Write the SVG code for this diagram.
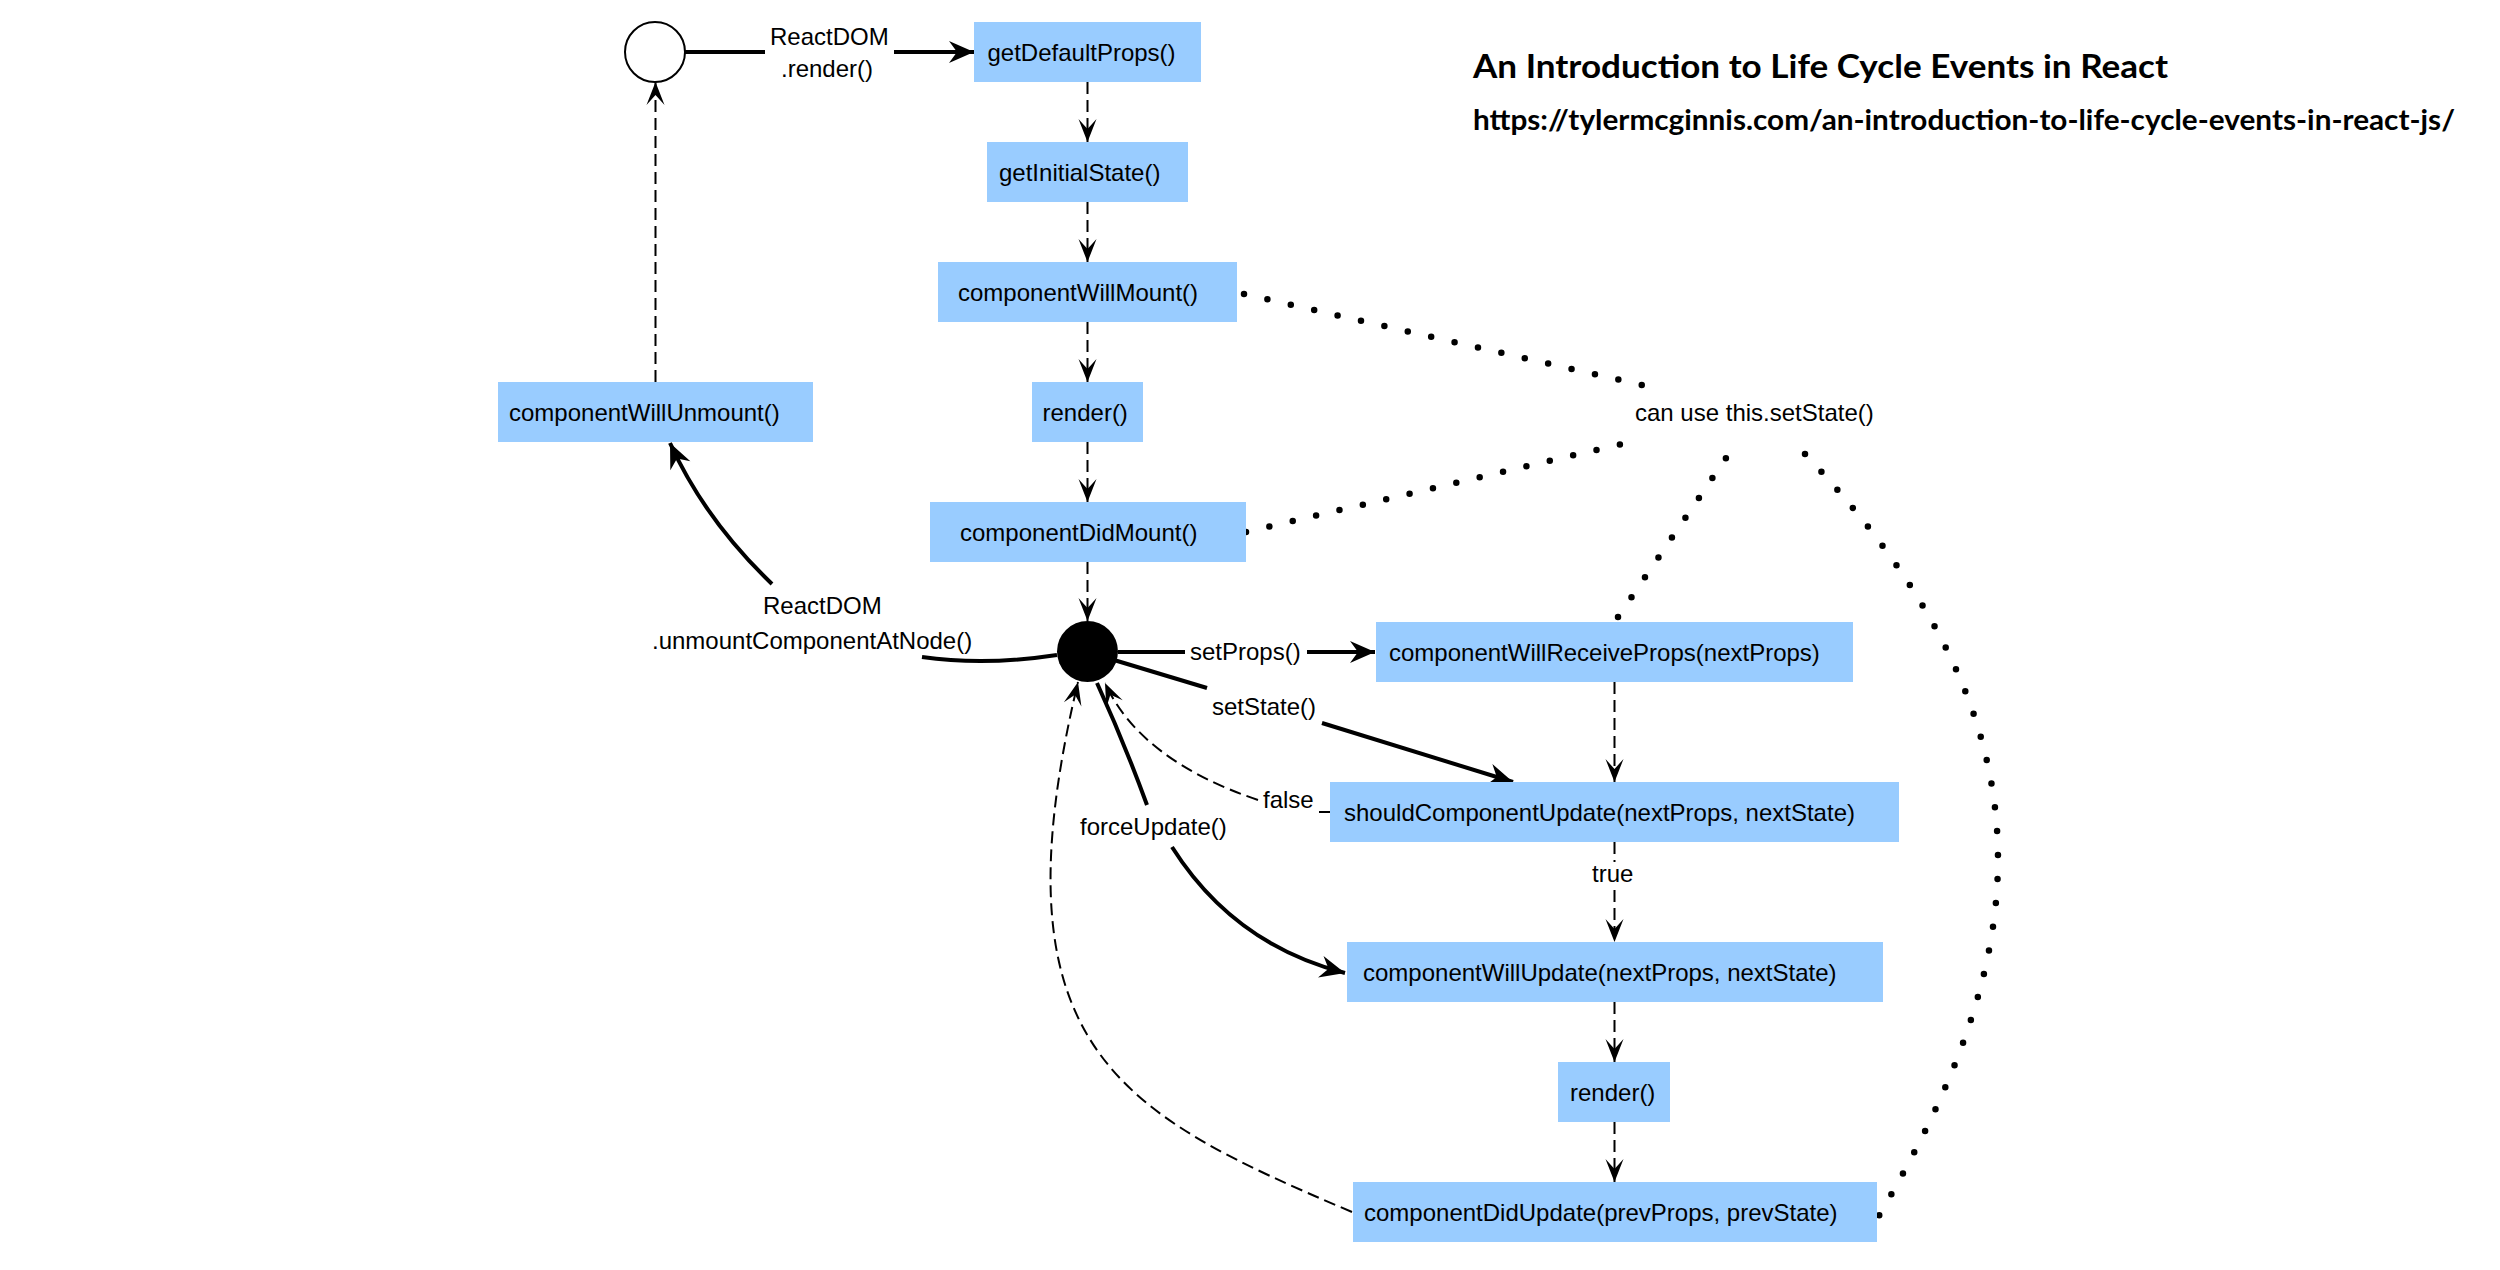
<svg xmlns="http://www.w3.org/2000/svg" width="2500" height="1270" viewBox="0 0 2500 1270">
<style>
.box{fill:#99CCFF}
.lbl{font-family:"Liberation Sans",Arial,Helvetica,sans-serif;font-size:24px;fill:#000}
.solid{fill:none;stroke:#000;stroke-width:4}
.dash{fill:none;stroke:#000;stroke-width:2;stroke-dasharray:12 6}
.dot{fill:none;stroke:#000;stroke-width:6.5;stroke-linecap:round;stroke-dasharray:0 24}
.title{font-family:Lato,"Noto Sans",sans-serif;font-weight:700;fill:#000}
</style>
<defs>
<marker id="ah" markerUnits="userSpaceOnUse" viewBox="-26 -12 28 24" markerWidth="28" markerHeight="24" refX="0" refY="0" orient="auto"><path d="M0,0 L-25,-11 L-17,0 L-25,11 Z" fill="#000"/></marker>
<marker id="at" markerUnits="userSpaceOnUse" viewBox="-24 -10 26 20" markerWidth="26" markerHeight="20" refX="0" refY="0" orient="auto"><path d="M0,0 L-23,-9 L-13,0 L-23,9 Z" fill="#000"/></marker>
</defs>
<rect width="2500" height="1270" fill="#fff"/>

<g id="connectors">
  <!-- start -> getDefaultProps -->
  <path class="solid" d="M685,52 H765"/>
  <path class="solid" d="M894,52 H974" marker-end="url(#ah)"/>
  <text class="lbl" x="770" y="45">ReactDOM</text>
  <text class="lbl" x="781" y="77">.render()</text>
  <!-- mount chain -->
  <path class="dash" d="M1087.5,82 V142" marker-end="url(#at)"/>
  <path class="dash" d="M1087.5,202 V262" marker-end="url(#at)"/>
  <path class="dash" d="M1087.5,322 V382" marker-end="url(#at)"/>
  <path class="dash" d="M1087.5,442 V502" marker-end="url(#at)"/>
  <path class="dash" d="M1087.5,562 V621" marker-end="url(#at)"/>
  <!-- unmount -> start -->
  <path class="dash" d="M655.5,382 V82" marker-end="url(#at)"/>
  <!-- active -> componentWillUnmount -->
  <path class="solid" d="M1057,655 Q985,666 922,657"/>
  <path class="solid" d="M772,584 Q705,520 670,443" marker-end="url(#ah)"/>
  <text class="lbl" x="763" y="614">ReactDOM</text>
  <text class="lbl" x="652" y="649">.unmountComponentAtNode()</text>
  <!-- setProps -->
  <path class="solid" d="M1118,652 H1185"/>
  <path class="solid" d="M1307,652 H1375" marker-end="url(#ah)"/>
  <text class="lbl" x="1190" y="660">setProps()</text>
  <!-- setState -->
  <path class="solid" d="M1114,660 L1207,688"/>
  <path class="solid" d="M1322,723 L1513,782" marker-end="url(#ah)"/>
  <text class="lbl" x="1212" y="715">setState()</text>
  <!-- forceUpdate -->
  <path class="solid" d="M1097,683 Q1124,742 1147,805"/>
  <path class="solid" d="M1172,847 C1215,915 1275,955 1345,973" marker-end="url(#ah)"/>
  <text class="lbl" x="1080" y="835">forceUpdate()</text>
  <!-- update chain -->
  <path class="dash" d="M1614.5,682 V782" marker-end="url(#at)"/>
  <path class="dash" d="M1614.5,842 V862"/>
  <path class="dash" d="M1614.5,890 V942" marker-end="url(#at)"/>
  <text class="lbl" x="1592" y="882">true</text>
  <path class="dash" d="M1614.5,1002 V1062" marker-end="url(#at)"/>
  <path class="dash" d="M1614.5,1122 V1182" marker-end="url(#at)"/>
  <!-- false -->
  <path class="dash" d="M1330,812 H1319"/>
  <path class="dash" d="M1258,800 Q1140,760 1105,683" marker-end="url(#at)"/>
  <text class="lbl" x="1263" y="808">false</text>
  <!-- componentDidUpdate -> active -->
  <path class="dash" d="M1352,1212 C1122,1114 990,1050 1078,682" marker-end="url(#at)"/>
  <!-- setState notes -->
  <path class="dot" d="M1244,294 L1642,385"/>
  <path class="dot" d="M1246,532 L1643,439"/>
  <path class="dot" d="M1618,617 L1726,458"/>
  <path class="dot" d="M1805,454 C2070,734 2030,961 1877,1219"/>
</g>

<g id="start"><circle cx="655" cy="52" r="30" fill="#fff" stroke="#000" stroke-width="2"/></g>
<g id="active"><circle cx="1087.5" cy="651.5" r="30.5" fill="#000"/></g>

<g id="getDefaultProps"><rect class="box" x="974" y="22" width="227" height="60"/><text class="lbl" x="987.5" y="61">getDefaultProps()</text></g>
<g id="getInitialState"><rect class="box" x="987" y="142" width="201" height="60"/><text class="lbl" x="999" y="181">getInitialState()</text></g>
<g id="componentWillMount"><rect class="box" x="938" y="262" width="299" height="60"/><text class="lbl" x="958" y="301">componentWillMount()</text></g>
<g id="render1"><rect class="box" x="1032" y="382" width="111" height="60"/><text class="lbl" x="1042.5" y="421">render()</text></g>
<g id="componentDidMount"><rect class="box" x="930" y="502" width="316" height="60"/><text class="lbl" x="960" y="541">componentDidMount()</text></g>
<g id="componentWillUnmount"><rect class="box" x="498" y="382" width="315" height="60"/><text class="lbl" x="509" y="421">componentWillUnmount()</text></g>
<g id="componentWillReceiveProps"><rect class="box" x="1376" y="622" width="477" height="60"/><text class="lbl" x="1389" y="661">componentWillReceiveProps(nextProps)</text></g>
<g id="shouldComponentUpdate"><rect class="box" x="1330" y="782" width="569" height="60"/><text class="lbl" x="1344" y="821">shouldComponentUpdate(nextProps, nextState)</text></g>
<g id="componentWillUpdate"><rect class="box" x="1347" y="942" width="536" height="60"/><text class="lbl" x="1363" y="981">componentWillUpdate(nextProps, nextState)</text></g>
<g id="render2"><rect class="box" x="1558" y="1062" width="112" height="60"/><text class="lbl" x="1570" y="1101">render()</text></g>
<g id="componentDidUpdate"><rect class="box" x="1353" y="1182" width="524" height="60"/><text class="lbl" x="1364" y="1221">componentDidUpdate(prevProps, prevState)</text></g>

<g id="setStateNote"><text class="lbl" x="1635" y="421">can use this.setState()</text></g>

<g id="title">
  <text class="title" x="1473" y="78" font-size="33" textLength="695" lengthAdjust="spacingAndGlyphs">An Introduction to Life Cycle Events in React</text>
  <text class="title" x="1473" y="130" font-size="28" textLength="982" lengthAdjust="spacingAndGlyphs">https://tylermcginnis.com/an-introduction-to-life-cycle-events-in-react-js/</text>
</g>
</svg>
